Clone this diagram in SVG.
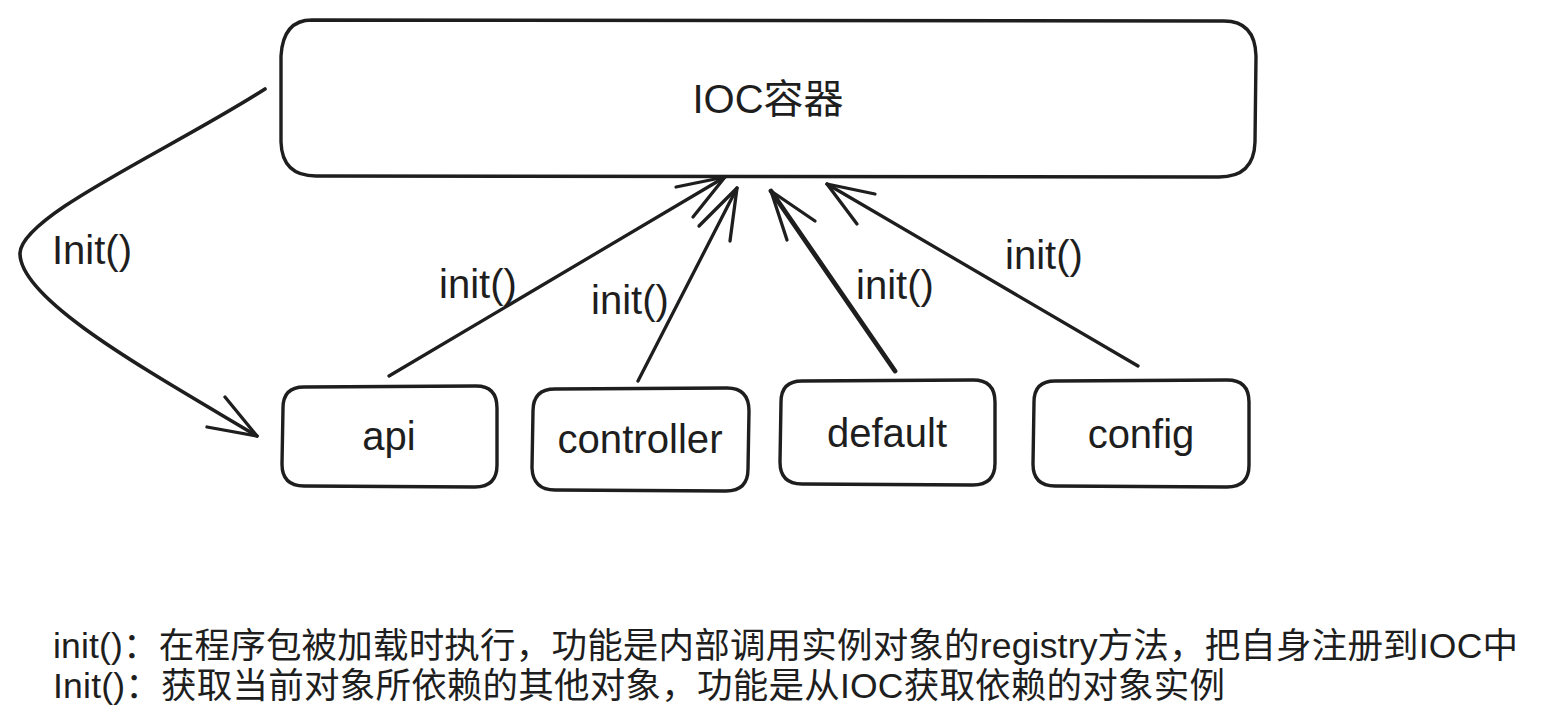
<svg xmlns="http://www.w3.org/2000/svg" width="1541" height="726" viewBox="0 0 1541 726">
<style>
.box{fill:#ffffff;stroke:#1e1e1e;stroke-width:3.4;stroke-linejoin:round;stroke-linecap:round}
.sk{fill:none;stroke:#1e1e1e;stroke-width:1.5;stroke-linecap:round;opacity:0.8}
.lbl{font-family:"Liberation Sans","Noto Sans CJK SC",Arial,sans-serif;font-size:40px;fill:#1e1e1e}
.ctr{text-anchor:middle}
.note{font-family:"Liberation Sans","Noto Sans CJK SC",sans-serif;font-size:35.5px;fill:#1e1e1e}
.edge{fill:none;stroke:#1e1e1e;stroke-width:3.3;stroke-linecap:round;stroke-linejoin:round}
.thick{stroke-width:4.8}
</style>
<rect width="1541" height="726" fill="#ffffff"/>
<g id="ioc">
<path class="box" d="M312,20 L1224,21 Q1255,21 1256,56 L1255,142 Q1254,177 1219,177 L316,176 Q282,176 281,142 L281,56 Q283,20 312,20 Z"/>
<path class="sk" d="M690,176.5 L950,177"/>
<text class="lbl ctr" x="768" y="113">IOC容器</text>
</g>
<g id="api">
<path class="box" d="M304,387 L476,386 Q497,386 497,408 L497,465 Q497,487 475,487 L304,486 Q282,486 282,464 L283,408 Q283,387 304,387 Z"/>
<text class="lbl ctr" x="389" y="450">api</text>
</g>
<g id="controller">
<path class="box" d="M555,389 L727,388 Q749,388 749,411 L748,469 Q748,491 726,491 L555,490 Q533,490 532,468 L533,411 Q533,389 555,389 Z"/>
<text class="lbl ctr" x="640" y="453" textLength="165" lengthAdjust="spacingAndGlyphs">controller</text>
</g>
<g id="default">
<path class="box" d="M802,381 L973,380 Q995,380 995,402 L995,463 Q995,485 973,485 L802,484 Q780,484 780,462 L781,402 Q781,381 802,381 Z"/>
<text class="lbl ctr" x="887" y="447">default</text>
</g>
<g id="config">
<path class="box" d="M1055,381 L1227,380 Q1249,380 1249,402 L1249,465 Q1249,487 1227,487 L1055,486 Q1033,486 1033,464 L1034,402 Q1034,381 1055,381 Z"/>
<text class="lbl ctr" x="1141" y="448">config</text>
</g>
<g id="connectors">
<path class="edge" d="M389,376 L725,177"/>
<path class="edge" d="M676,187 L725,177 L693,217"/>
<path class="edge" d="M638,381 L737,188"/>
<path class="edge" d="M699,226 L737,188 L730,241"/>
<path class="edge thick" d="M895,371 L771,191"/>
<path class="edge" d="M787,240 L771,191 L815,221"/>
<path class="edge" d="M1138,366 L827,184"/>
<path class="edge" d="M875,194 L827,184 L857,224"/>
<path class="edge" d="M265,89 C170,150 22,215 20,253 C19,300 150,372 257,436" style="stroke-width:3.6"/>
<path class="edge" d="M225,397 L257,436 L207,427"/>
<text class="lbl" x="439" y="298">init()</text>
<text class="lbl" x="591" y="314">init()</text>
<text class="lbl" x="856" y="299">init()</text>
<text class="lbl" x="1005" y="269">init()</text>
<text class="lbl" x="52" y="264">Init()</text>
</g>
<g id="notes">
<text class="note" x="53" y="658" textLength="1465" lengthAdjust="spacing">init()：在程序包被加载时执行，功能是内部调用实例对象的registry方法，把自身注册到IOC中</text>
<text class="note" x="53" y="698" textLength="1172" lengthAdjust="spacing">Init()：获取当前对象所依赖的其他对象，功能是从IOC获取依赖的对象实例</text>
</g>
</svg>
